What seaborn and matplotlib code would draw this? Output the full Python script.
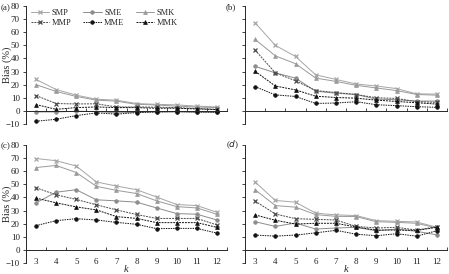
import numpy as np
import pandas as pd
import matplotlib
matplotlib.use("Agg")
import matplotlib.pyplot as plt
import seaborn as sns

k = [3, 4, 5, 6, 7, 8, 9, 10, 11, 12]
series_names = ["SMP", "SME", "SMK", "MMP", "MME", "MMK"]

# panel (a)
a_SMP = [24, 16.3, 12, 8.9, 8.2, 5.6, 5, 4.6, 3.6, 3]
a_SME = [-0.8, -0.8, -0.3, -0.5, -1.5, -1, -0.8, -0.8, -1, -1]
a_SMK = [20, 14.8, 11, 8.2, 7.4, 5, 4.5, 3.6, 3, 2.5]
a_MMP = [11.7, 5.6, 5.3, 5.4, 3, 3, 2.8, 2.5, 1.8, 1.2]
a_MME = [-7.9, -6.4, -3.6, -1.5, -2.5, -1.3, -0.8, -0.5, -0.8, -1]
a_MMK = [4.8, 1.2, 2.5, 3, 2.5, 2.5, 2, 2, 1.5, 1]

# panel (b)
b_SMP = [67.2, 50, 41.5, 27.5, 24, 20.5, 19, 17, 13, 12.8]
b_SME = [34, 29, 25, 15, 13.5, 12.5, 9, 8.5, 7.5, 7.5]
b_SMK = [54.5, 42, 36, 25, 22.5, 19.5, 17.5, 15.5, 12.5, 12]
b_MMP = [46.4, 29, 23, 15.5, 14, 12.5, 10, 9.5, 7, 6.5]
b_MME = [18.5, 12.2, 11, 5.7, 6, 7, 4.7, 4, 3.2, 2.7]
b_MMK = [30.2, 19, 16, 11.2, 10.2, 9.7, 8.2, 7.2, 6.2, 5.2]

# panel (c)
c_SMP = [69.7, 68, 64, 51.8, 48.7, 45.9, 40.3, 34.6, 33.8, 28.7]
c_SME = [35.9, 44, 45.9, 38.2, 37.4, 36.4, 32, 27.7, 27.2, 22.8]
c_SMK = [62.8, 64.4, 59, 48.5, 45.4, 43, 37.4, 33, 32, 27.2]
c_MMP = [47.4, 42, 38.5, 34.4, 30.5, 27, 24, 24, 24, 19]
c_MME = [18.5, 22.3, 23.8, 22.8, 21, 19.5, 16.2, 16.4, 16.4, 12.8]
c_MMK = [39.5, 35.9, 32.8, 30.5, 25.4, 24, 20.8, 20.8, 20.8, 17.2]

# panel (d)
d_SMP = [51.8, 37.7, 36.4, 28, 26.7, 26.2, 22.3, 21.8, 21.3, 17.2]
d_SME = [21.5, 17.9, 20.5, 15.9, 16.7, 17.2, 14.6, 15.9, 14.1, 11.5]
d_SMK = [45.9, 33.8, 32.6, 26.9, 25.6, 25.4, 21.5, 21, 20.3, 16.7]
d_MMP = [37.2, 27.4, 23.8, 23.3, 22.8, 17.9, 16.7, 17.2, 15.1, 17.7]
d_MME = [11.3, 10.5, 11.3, 13, 14.9, 12, 10.8, 12.3, 10.5, 14.6]
d_MMK = [26.7, 22.6, 19.7, 20.3, 20.3, 17.4, 15.1, 15.1, 14.9, 17.2]

panels = {
    "a": [a_SMP, a_SME, a_SMK, a_MMP, a_MME, a_MMK],
    "b": [b_SMP, b_SME, b_SMK, b_MMP, b_MME, b_MMK],
    "c": [c_SMP, c_SME, c_SMK, c_MMP, c_MME, c_MMK],
    "d": [d_SMP, d_SME, d_SMK, d_MMP, d_MME, d_MMK],
}

styles = {
    "SMP": dict(color="#a6a6a6", marker="x", ls="-", ms=3.2, mew=0.9),
    "SME": dict(color="#8c8c8c", marker="o", ls="-", ms=2.6, mew=0.5),
    "SMK": dict(color="#9a9a9a", marker="^", ls="-", ms=2.8, mew=0.5),
    "MMP": dict(color="#4a4a4a", marker="x", ls=(0, (2, 1)), ms=3.2, mew=0.9),
    "MME": dict(color="#111111", marker="o", ls=(0, (1.5, 1)), ms=2.6, mew=0.5),
    "MMK": dict(color="#111111", marker="^", ls=(0, (2, 1)), ms=2.8, mew=0.5),
}

sns.set_style("ticks")
plt.rcParams["font.family"] = ["Liberation Serif", "DejaVu Serif"]

fig = plt.figure(figsize=(4.49, 2.74), dpi=100)
W, H = 449, 274
pos = {
    "a": [26 / W, 1 - 124 / H, 201 / W, 118 / H],
    "b": [245 / W, 1 - 124 / H, 202 / W, 118 / H],
    "c": [26 / W, 1 - 263 / H, 201 / W, 118 / H],
    "d": [245 / W, 1 - 263 / H, 202 / W, 118 / H],
}

axes = {}
for key, vals in panels.items():
    ax = fig.add_axes(pos[key])
    axes[key] = ax
    for name, v in zip(series_names, vals):
        st = styles[name]
        df = pd.DataFrame({"k": k, "bias": v})
        sns.lineplot(data=df, x="k", y="bias", ax=ax, color=st["color"],
                     linestyle=st["ls"], linewidth=0.7, marker=st["marker"],
                     markersize=st["ms"], markeredgewidth=st["mew"],
                     markeredgecolor=st["color"], label=name, legend=False)
    ax.set_xlim(2.5, 12.5)
    ax.set_ylim(-10, 80)
    ax.set_yticks(np.arange(-10, 81, 10))
    ax.spines["top"].set_visible(False)
    ax.spines["right"].set_visible(False)
    ax.spines["bottom"].set_position(("data", 0))
    ax.spines["left"].set_linewidth(0.7)
    ax.spines["bottom"].set_linewidth(0.7)
    ax.set_xticks(k)
    ax.set_xticks(np.arange(3.5, 12.6, 1), minor=True)
    ax.tick_params(axis="x", which="major", length=0, pad=5.5, labelsize=6.5, colors="#222222")
    ax.tick_params(axis="x", which="minor", length=2.5, direction="in", width=0.6)
    ax.tick_params(axis="y", which="major", length=2.5, direction="out", width=0.6,
                   labelsize=6.5, pad=2, colors="#222222")
    ax.set_xlabel("")
    ax.set_ylabel("")
    if key in ("a", "b"):
        ax.tick_params(axis="x", which="major", labelbottom=False)
    else:
        ax.set_xlabel("k", fontstyle="italic", fontsize=7.5, va="center")
        ax.xaxis.set_label_coords(0.5, -(270 - 263) / 118)
    if key in ("b", "d"):
        ax.tick_params(axis="y", labelleft=False)
    else:
        ax.set_ylabel("Bias (%)", fontsize=7.5, va="center")
        ax.yaxis.set_label_coords(-19 / 201, 0.5)
    ax.set_facecolor("none")

handles, labels = axes["a"].get_legend_handles_labels()
order = [0, 3, 1, 4, 2, 5]
fig.legend([handles[i] for i in order], [labels[i] for i in order],
           loc="upper left", bbox_to_anchor=(31 / W, 1 - 9 / H),
           bbox_transform=fig.transFigure, ncol=3, frameon=False, fontsize=6,
           handlelength=2.2, handletextpad=0.3, columnspacing=1.4,
           labelspacing=0.25, borderpad=0, borderaxespad=0)

fig.text(0.5 / W, 1 - 8 / H, "(a)", fontsize=6.5, va="center", ha="left")
fig.text(226 / W, 1 - 7 / H, "(b)", fontsize=6.5, va="center", ha="left")
fig.text(0.5 / W, 1 - 146 / H, "(c)", fontsize=6.5, va="center", ha="left")
fig.text(226 / W, 1 - 145 / H, "($d$)", fontsize=6.5, va="center", ha="left")

fig.savefig("out.png", dpi=100)
